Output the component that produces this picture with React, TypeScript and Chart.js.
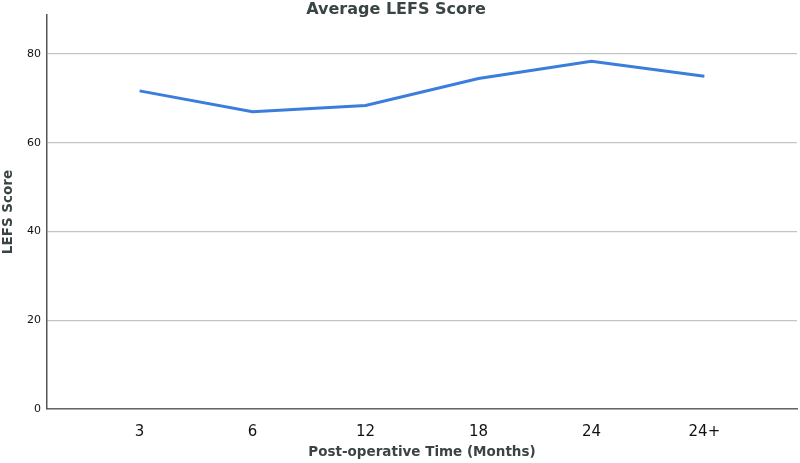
import React, { useEffect, useRef } from "react";
import { Chart, registerables } from "chart.js";

Chart.register(...registerables);

const categories = ["3", "6", "12", "18", "24", "24+"];
const lefsScores = [71.7, 67.0, 68.4, 74.5, 78.4, 75.0];
const yTicks = [0, 20, 40, 60, 80];
const chartTitle = "Average LEFS Score";
const xTitle = "Post-operative Time (Months)";
const yTitle = "LEFS Score";

export default function App() {
  const ref = useRef<HTMLCanvasElement | null>(null);
  useEffect(() => {
    document.body.style.margin = "0";
    const textPlugin = {
      id: "texts",
      afterDraw(chart: any) {
        const ctx = chart.ctx;
        const ca = chart.chartArea;
        ctx.save();
        ctx.fillStyle = "#3a4444";
        ctx.textAlign = "center";
        ctx.textBaseline = "alphabetic";
        ctx.font = "bold 16px 'DejaVu Sans'";
        ctx.fillText(chartTitle, 396, 14);
        ctx.font = "bold 13.5px 'DejaVu Sans'";
        ctx.textBaseline = "middle";
        ctx.fillText(xTitle, (ca.left + ca.right) / 2, 452);
        ctx.translate(8, (ca.top + ca.bottom) / 2);
        ctx.rotate(-Math.PI / 2);
        ctx.fillText(yTitle, 0, 0);
        ctx.restore();
      },
    };
    const chart = new Chart(ref.current!, {
      type: "line",
      data: {
        datasets: [
          {
            data: lefsScores.map((v, i) => ({ x: i + 1, y: v })),
            borderColor: "#3b7ddd",
            borderWidth: 3,
            pointRadius: 0,
            tension: 0,
            fill: false,
          },
        ],
      },
      options: {
        animation: false,
        responsive: false,
        maintainAspectRatio: false,
        layout: { padding: { top: 15, right: 3, left: 0, bottom: 0 } },
        plugins: { legend: { display: false }, tooltip: { enabled: false } },
        scales: {
          x: {
            type: "linear",
            min: 0.18,
            max: 6.82,
            afterFit(scale: any) {
              scale.height = 54;
            },
            afterBuildTicks(scale: any) {
              scale.ticks = categories.map((_, i) => ({ value: i + 1 }));
            },
            ticks: {
              autoSkip: false,
              maxRotation: 0,
              padding: 6,
              color: "#111",
              font: { size: 15, family: "'DejaVu Sans'" },
              callback: (v: any) => categories[Math.round(v) - 1] ?? "",
            },
            grid: { display: false },
            border: { display: true, color: "#666", width: 1.5 },
          },
          y: {
            min: 0,
            max: 88.8,
            afterFit(scale: any) {
              scale.width = 47;
            },
            afterBuildTicks(scale: any) {
              scale.ticks = yTicks.map((v) => ({ value: v }));
            },
            ticks: {
              padding: 6,
              color: "#111",
              font: { size: 11, family: "'DejaVu Sans'" },
            },
            grid: { color: "#c4c4c4", lineWidth: 1.2, drawTicks: false },
            border: { display: true, color: "#555", width: 1.5 },
          },
        },
      },
      plugins: [textPlugin],
    });
    return () => chart.destroy();
  }, []);
  return (
    <div style={{ width: 800, height: 463, background: "#fff" }}>
      <canvas ref={ref} width={800} height={463} />
    </div>
  );
}
